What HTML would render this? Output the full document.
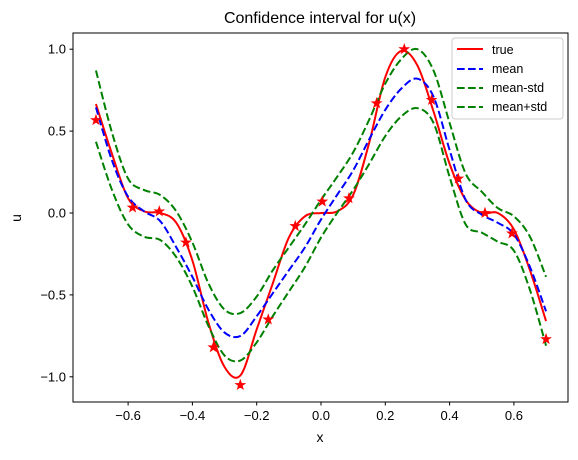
<!DOCTYPE html>
<html><head><meta charset="utf-8"><style>
body{margin:0;background:#fff}
svg text{font-family:"Liberation Sans","DejaVu Sans",sans-serif;fill:#000}
</style></head><body>
<svg id="chart" width="578" height="455" viewBox="0 0 578 455" xmlns="http://www.w3.org/2000/svg">
<rect width="578" height="455" fill="#fff"/>
<text x="320" y="23" font-size="16" text-anchor="middle">Confidence interval for u(x)</text>
<g id="grid-ticks"></g>
<g id="series"></g>
<rect x="73" y="33" width="495" height="369" fill="none" stroke="#000" stroke-width="1"/>
<text x="320" y="442" font-size="14" text-anchor="middle">x</text>
<text x="21" y="218" font-size="14" text-anchor="middle" transform="rotate(-90 21 218)">u</text>
<g>
<rect x="452" y="38" width="111" height="81" rx="3" fill="#fff" fill-opacity="0.8" stroke="#ccc"/>
<line x1="457" y1="49" x2="483" y2="49" stroke="#ff0000" stroke-width="2"/>
<text x="492" y="54" font-size="12.5">true</text>
<line x1="457" y1="69" x2="483" y2="69" stroke="#0000ff" stroke-width="2" stroke-dasharray="7.7,3.3"/>
<text x="492" y="73" font-size="12.5">mean</text>
<line x1="457" y1="88" x2="483" y2="88" stroke="#008000" stroke-width="2" stroke-dasharray="7.7,3.3"/>
<text x="492" y="92" font-size="12.5">mean-std</text>
<line x1="457" y1="107" x2="483" y2="107" stroke="#008000" stroke-width="2" stroke-dasharray="7.7,3.3"/>
<text x="492" y="111" font-size="12.5">mean+std</text>
</g>
</svg>
<script>
const xs = [-0.7,-0.65,-0.6,-0.55,-0.5,-0.45,-0.4,-0.35,-0.3,-0.25,-0.2,-0.15,-0.1,-0.05,0,0.05,0.1,0.15,0.2,0.25,0.3,0.35,0.4,0.45,0.5,0.55,0.6,0.65,0.7];
const trueVals = [0.665,0.36,0.09,0.01,0.0,-0.06,-0.29,-0.67,-0.94,-0.99,-0.71,-0.43,-0.15,-0.02,0,0.01,0.11,0.43,0.83,0.99,0.9,0.62,0.30,0.08,0,0,-0.10,-0.35,-0.66];
const meanVals = [0.645,0.32,0.10,0.01,-0.05,-0.21,-0.39,-0.59,-0.73,-0.75,-0.63,-0.49,-0.35,-0.21,-0.04,0.11,0.26,0.45,0.63,0.76,0.82,0.71,0.385,0.08,-0.01,-0.06,-0.13,-0.33,-0.60];
const upperVals = [0.87,0.49,0.21,0.14,0.11,0.01,-0.18,-0.43,-0.59,-0.61,-0.51,-0.35,-0.21,-0.07,0.08,0.22,0.37,0.57,0.79,0.94,1.0,0.87,0.55,0.24,0.13,0.03,-0.02,-0.145,-0.39];
const lowerVals = [0.435,0.14,-0.07,-0.145,-0.165,-0.27,-0.45,-0.69,-0.87,-0.90,-0.79,-0.63,-0.48,-0.33,-0.15,0.0,0.14,0.30,0.47,0.59,0.64,0.55,0.22,-0.07,-0.12,-0.175,-0.23,-0.47,-0.81];
const obsX = [-0.70,-0.586,-0.503,-0.420,-0.335,-0.251,-0.164,-0.080,0.004,0.087,0.173,0.259,0.344,0.427,0.510,0.594,0.700];
const obsY = [0.567,0.033,0.01,-0.18,-0.82,-1.05,-0.65,-0.08,0.07,0.09,0.67,1.0,0.69,0.21,0.0,-0.125,-0.77];
const xTicks = [-0.6,-0.4,-0.2,0.0,0.2,0.4,0.6];
const xTickLabels = ["−0.6","−0.4","−0.2","0.0","0.2","0.4","0.6"];
const yTicks = [-1.0,-0.5,0.0,0.5,1.0];
const yTickLabels = ["−1.0","−0.5","0.0","0.5","1.0"];

const NS="http://www.w3.org/2000/svg";
function sx(v){return 321+v*321.5;}
function sy(v){return 213-v*163.8;}
function mk(tag,attrs,parent){const e=document.createElementNS(NS,tag);for(const k in attrs)e.setAttribute(k,attrs[k]);parent.appendChild(e);return e;}
const tg=document.getElementById('grid-ticks');
xTicks.forEach((t,i)=>{
  const l=mk('line',{x1:sx(t),x2:sx(t),y1:402,y2:405.5,stroke:'#000'},tg);
  
  
  const tx=mk('text',{x:sx(t),y:420,'font-size':'13','text-anchor':'middle'},tg);
  tx.textContent=xTickLabels[i];
  
  
});
yTicks.forEach((t,i)=>{
  const l=mk('line',{x1:69.5,x2:73,y1:sy(t),y2:sy(t),stroke:'#000'},tg);
  
  
  const tx=mk('text',{x:66,y:sy(t)+4.5,'font-size':'13','text-anchor':'end'},tg);
  tx.textContent=yTickLabels[i];
  
  
});
function pathFor(vals){
  const p=xs.map((x,i)=>[sx(x),sy(vals[i])]);
  let d='M'+p[0][0]+','+p[0][1];
  for(let i=0;i<p.length-1;i++){
    const p0=p[Math.max(0,i-1)],p1=p[i],p2=p[i+1],p3=p[Math.min(p.length-1,i+2)];
    const c1=[p1[0]+(p2[0]-p0[0])/6,p1[1]+(p2[1]-p0[1])/6];
    const c2=[p2[0]-(p3[0]-p1[0])/6,p2[1]-(p3[1]-p1[1])/6];
    d+=' C'+c1[0]+','+c1[1]+' '+c2[0]+','+c2[1]+' '+p2[0]+','+p2[1];
  }
  return d;
}
const sg=document.getElementById('series');
const defs=[[trueVals,'#ff0000',null,'true-line'],[meanVals,'#0000ff','7.7,3.3','mean-line'],[lowerVals,'#008000','7.7,3.3','mean-minus-std-line'],[upperVals,'#008000','7.7,3.3','mean-plus-std-line']];
defs.forEach(([v,c,da,n])=>{
  const a={d:pathFor(v),fill:'none',stroke:c,'stroke-width':'2'};
  if(da)a['stroke-dasharray']=da;
  const e=mk('path',a,sg);
  
  
});
function star(cx,cy,r){
  let pts=[];
  for(let k=0;k<10;k++){const rr=k%2?r*0.4:r;const a=-Math.PI/2+k*Math.PI/5;pts.push((cx+rr*Math.cos(a)).toFixed(2)+','+(cy+rr*Math.sin(a)).toFixed(2));}
  return pts.join(' ');
}
obsX.forEach((x,i)=>{
  const e=mk('polygon',{points:star(sx(x),sy(obsY[i]),5),fill:'#ff0000',stroke:'#ff0000','stroke-width':'0.8'},sg);
  
  
});
</script>
</body></html>
